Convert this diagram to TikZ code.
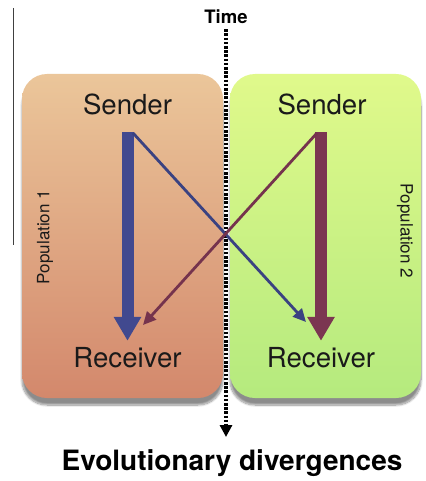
\documentclass[tikz,border=0pt]{standalone}
\usepackage{fontspec}
\setmainfont{TeX Gyre Heros}
\usepackage{tikz}
\usetikzlibrary{positioning, arrows.meta, shadows, shadows.blur}
\definecolor{poponetop}{HTML}{EBC69A}
\definecolor{poponebot}{HTML}{D3886C}
\definecolor{poptwotop}{HTML}{E0F98B}
\definecolor{poptwobot}{HTML}{B5EA7E}
\definecolor{sigblue}{HTML}{41498F}
\definecolor{sigred}{HTML}{7B3651}
\definecolor{inkgray}{HTML}{1A1A1A}
\tikzset{
	popbox/.style={rectangle, rounded corners=25pt, draw=none,
		blur shadow={shadow xshift=0pt, shadow yshift=-7pt, shadow blur steps=10, shadow opacity=45}}
}
\tikzset{
	roletext/.style={font=\fontsize{27.6}{30}\selectfont, text=inkgray, inner sep=0pt, text height=20pt, text depth=0pt}
}
\tikzset{
	poptext/.style={font=\fontsize{17}{19}\selectfont, text=inkgray, inner sep=0pt}
}
\tikzset{
	boldtext/.style={font=\bfseries, text=black, inner sep=0pt}
}
\tikzset{
	bigarrow/.style={line width=12pt, -{Triangle[length=24pt,width=26pt]}}
}
\tikzset{
	thinarrow/.style={line width=2.8pt, -{Triangle[length=13pt,width=12pt]}}
}
\tikzset{
	timeline/.style={line width=3.2pt, dash pattern=on 2.6pt off 1.6pt, -{Triangle[length=12pt,width=12pt]}}
}

\begin{document}
\begin{tikzpicture}[x=1pt, y=-1pt]
      \useasboundingbox (0,0) rectangle (425,481);
      \draw[line width=0.7pt, black!75] (13,8) -- (13,245);

      \node[popbox, minimum width=201pt, minimum height=324pt,
            top color=poponetop, bottom color=poponebot] (pop1) at (122.5,236) {};
      \node[popbox, minimum width=191pt, minimum height=324pt,
            top color=poptwotop, bottom color=poptwobot] (pop2) at (325.5,236) {};

      \node[poptext, rotate=90] (lab1) at (45,237) {Population 1};
      \node[poptext, rotate=-90] (lab2) at (405,231) {Population 2};

      \node[roletext] (snd1) at (127.5,105) {Sender};
      \node[roletext] (snd2) at (322,105) {Sender};
      \node[roletext] (rcv1) at (127.5,357) {Receiver};
      \node[roletext] (rcv2) at (321,357) {Receiver};

      \coordinate (out1) at (133,133);
      \coordinate (out2) at (317,133);
      \coordinate (in1) at (143,325);
      \coordinate (in2) at (306,322);

      \node[boldtext, font=\fontsize{18.5}{20}\selectfont\bfseries] (time) at (226,17) {Time};
      \node[boldtext, font=\fontsize{28}{30}\selectfont\bfseries] (div) at (232,463) {Evolutionary divergences};
      \coordinate (tend) at (226,437);
      \draw[timeline] (time.south) ++(0,5) -- (tend);

      \draw[bigarrow, sigblue] (snd1.south) ++(0,17) -- ([yshift=6pt]rcv1.north);
      \draw[bigarrow, sigred] ([xshift=-1pt]snd2.south) ++(0,17) -- ([yshift=6pt]rcv2.north);
      \draw[thinarrow, sigblue!90!black] (out1) -- (in2);
      \draw[thinarrow, sigred!95!black] (out2) -- (in1);
    \end{tikzpicture}
\end{document}
